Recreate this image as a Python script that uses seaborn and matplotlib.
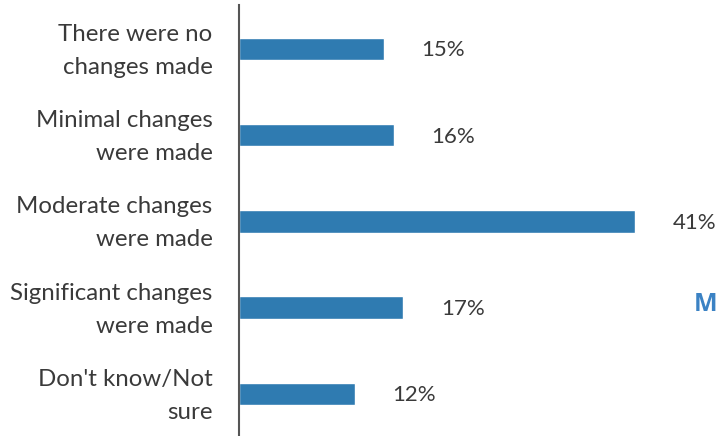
import matplotlib
matplotlib.use("Agg")
import matplotlib.pyplot as plt
import matplotlib.transforms as mtransforms
import seaborn as sns
import pandas as pd

categories = [
    "There were no\nchanges made",
    "Minimal changes\nwere made",
    "Moderate changes\nwere made",
    "Significant changes\nwere made",
    "Don't know/Not\nsure",
]
values = [15, 16, 41, 17, 12]
value_labels = ["15%", "16%", "41%", "17%", "12%"]

bar_color = "#2f7bb1"
text_color = "#3a3a3a"

sns.set_theme(style="white")
plt.rcParams["font.family"] = ["Lato", "DejaVu Sans"]

df = pd.DataFrame({"category": categories, "value": values})

W, H = 719, 436
fig = plt.figure(figsize=(W / 100, H / 100), dpi=100)
ax_left, ax_top, ax_bottom = 239, 5, 436
ax = fig.add_axes([ax_left / W, (H - ax_bottom) / H, (W - ax_left) / W, (ax_bottom - ax_top) / H])

sns.barplot(data=df, x="value", y="category", orient="h", color=bar_color,
            width=0.26, saturation=1, ax=ax)

px_per_unit = 9.66
ax.set_xlim(0, (W - ax_left) / px_per_unit)
ax.set_ylim(4.49, -0.51)

for i, (v, lab) in enumerate(zip(values, value_labels)):
    ax.annotate(lab, xy=(v, i), xytext=(27, -1), textcoords="offset points",
                ha="left", va="center", fontsize=16, color=text_color)

ax.set_xlabel("")
ax.set_ylabel("")
ax.set_xticks([])
ax.set_yticks(range(len(categories)))
ax.set_yticklabels(categories, linespacing=1.7, multialignment="right",
                   fontsize=17.3, color=text_color, va="center")
ax.tick_params(axis="y", length=0, pad=19)

# nudge the two-line category labels slightly downward
shift = mtransforms.ScaledTranslation(0, -2 / 100, fig.dpi_scale_trans)
for t in ax.get_yticklabels():
    t.set_transform(t.get_transform() + shift)

for side in ["top", "right", "bottom"]:
    ax.spines[side].set_visible(False)
ax.spines["left"].set_color("#555555")
ax.spines["left"].set_linewidth(1.5)

fig.text(694 / W, 1 - 304 / H, "M", ha="left", va="center", fontsize=18,
         fontweight="bold", family=["Open Sans", "DejaVu Sans"], color="#3b82c4")

fig.savefig("out.png", dpi=100)
